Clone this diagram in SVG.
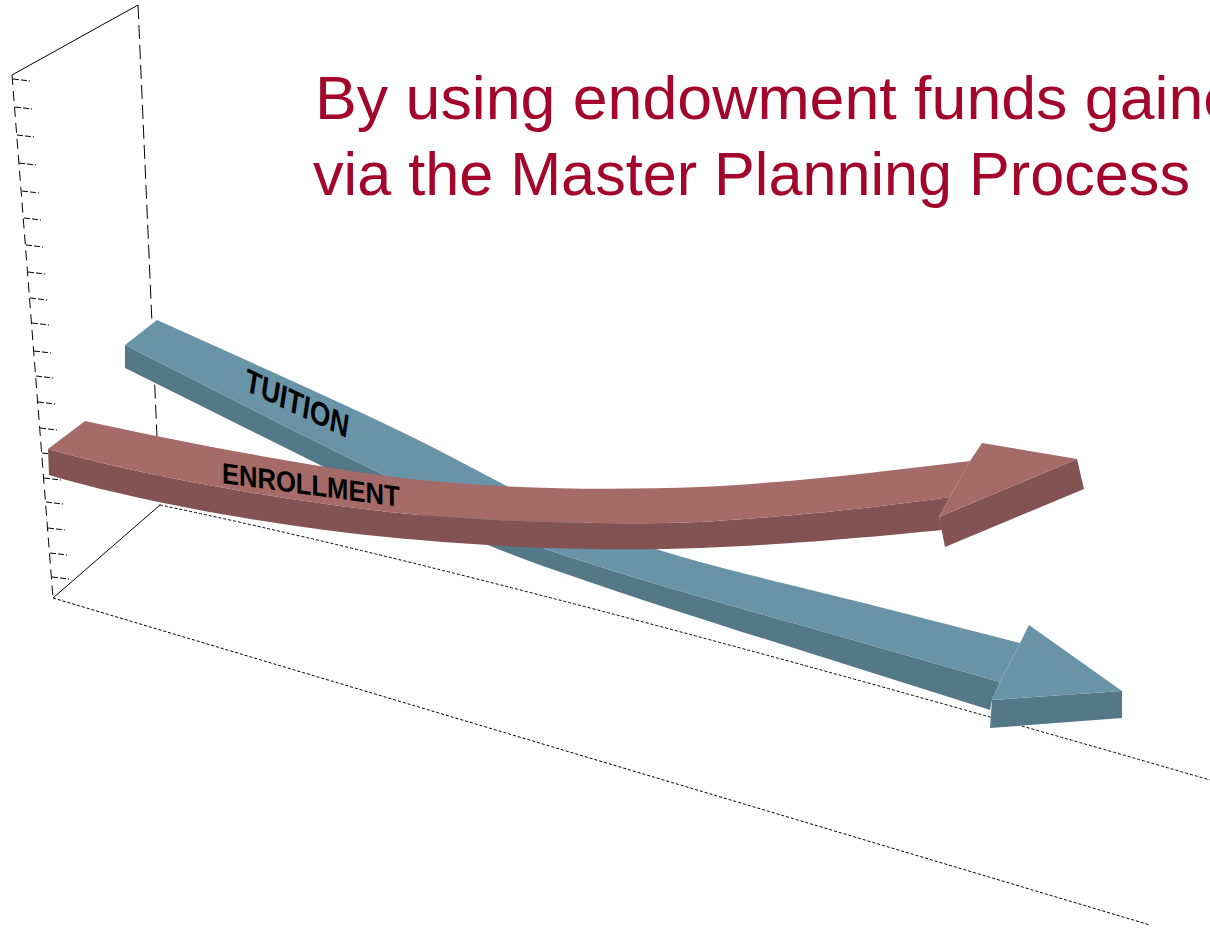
<svg xmlns="http://www.w3.org/2000/svg" width="1210" height="930" viewBox="0 0 1210 930">
<style>
.ax{fill:none;stroke:#000;stroke-width:1}
.d1{stroke-dasharray:14,6}
.d2{stroke-dasharray:10,6}
.d3{stroke-dasharray:3,2}
.tk{fill:none;stroke:#000;stroke-width:1;stroke-dasharray:6,2}
.btop{fill:#6994A7}
.bside{fill:#557889}
.rtop{fill:#A56B68}
.rside{fill:#835252}
.lbl{font-family:"Liberation Sans",Arial,sans-serif;font-weight:bold;fill:#000}
.title{font-family:"Liberation Sans",Arial,sans-serif;font-size:62px;fill:#A3062A}
</style>
<rect width="1210" height="930" fill="#fff"/>
<g id="axes">
<line class="ax" x1="12" y1="75" x2="138" y2="5"/>
<line class="ax d1" x1="138" y1="5" x2="160" y2="505"/>
<line class="ax d2" x1="12" y1="75" x2="53" y2="598"/>
<line class="ax" x1="53" y1="598" x2="160" y2="505"/>
<path class="ax d3" d="M160,505 Q520,580 1210,780"/>
<line class="ax d3" x1="53" y1="598" x2="1150" y2="925"/>
<path class="tk" d="M13,79 l17,2 M15,107 l17,2 M17,135 l17,2 M19,163 l17,2 M22,191 l17,2 M24,218 l17,2 M26,245 l17,2 M28,272 l17,2 M30,298 l17,2 M32,323 l17,2 M34,351 l17,2 M36,376 l17,2 M38,402 l17,2 M40,428 l17,2 M42,453 l17,2 M44,478 l17,2 M46,502 l17,2 M48,528 l17,2 M50,553 l17,2 M52,577 l17,2"/>
</g>
<g id="tuition">
<path class="bside" d="M125,345 C230,398 330,450 420,492 C480,520 520,540 560,554 C640,580 720,603 800,625 L1000,682 L992,700 L990,710 L800,650 C720,625 640,600 540,565 C470,540 420,515 330,470 L125,368 Z"/>
<path class="btop" d="M157,320 C290,380 400,428 480,472 C560,515 620,540 700,562 C760,578 800,587 860,602 L1020,643 L1000,682 L800,625 C720,603 640,580 560,554 C520,540 480,520 420,492 C330,450 230,398 125,345 Z"/>
<polygon class="bside" points="992,700 1122,691 1122,718 990,728"/>
<polygon class="btop" points="1020,643 1029,625 1122,691 992,700 1000,682"/>
<text class="lbl" font-size="32" transform="matrix(0.806 0.376 -0.15 0.99 244 390)">TUITION</text>
</g>
<g id="enrollment">
<path class="rside" d="M48,449 C150,478 310,505 420,515 C520,523 620,525 700,522 C800,516 880,507 950,497 L939,517 L942,530 C880,536 800,544 700,548 C620,551 520,549 420,540 C310,532 150,505 49,475 Z"/>
<path class="rtop" d="M85,421 C200,446 330,470 420,480 C520,490 620,490 700,487 C800,482 880,472 970,461 L950,497 C880,507 800,516 700,522 C620,525 520,523 420,515 C310,505 150,478 48,449 Z"/>
<polygon class="rside" points="939,517 1077,459 1084,489 945,547"/>
<polygon class="rtop" points="970,461 982,443 1077,459 939,517 950,497"/>
<text class="lbl" font-size="29" transform="matrix(0.882 0.118 0 1 222 483)">ENROLLMENT</text>
</g>
<g id="title">
<text class="title" x="315" y="119" textLength="958" lengthAdjust="spacingAndGlyphs">By using endowment funds gained</text>
<text class="title" x="313" y="195" textLength="877" lengthAdjust="spacingAndGlyphs">via the Master Planning Process</text>
</g>
</svg>
